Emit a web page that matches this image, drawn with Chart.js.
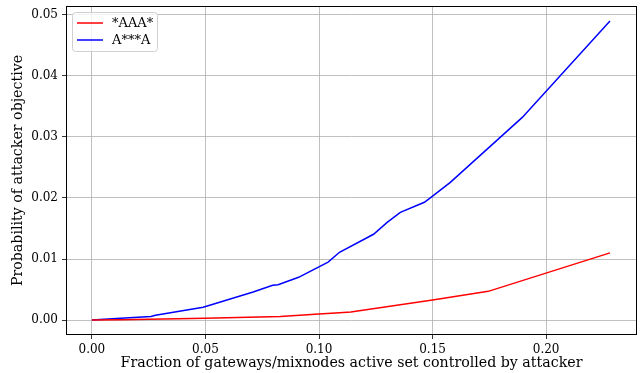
<!DOCTYPE html>
<html>
<head>
<meta charset="utf-8">
<script src="https://cdn.jsdelivr.net/npm/chart.js@4.4.1/dist/chart.umd.min.js"></script>
<style>
  html, body { margin: 0; padding: 0; background: #fff; }
  #wrap { width: 641px; height: 373px; }
</style>
</head>
<body>
<div id="wrap"><canvas id="attackChart" width="641" height="373"></canvas></div>
<script>
// *AAA* series
const aaaX = [0, 0.0127, 0.05, 0.083, 0.100, 0.109, 0.114, 0.150, 0.1745, 0.2281];
const aaaY = [0, 0.00005, 0.0003, 0.0006, 0.0010, 0.0012, 0.0013, 0.0033, 0.0047, 0.0110];

// A***A series
const axaX = [0, 0.0127, 0.026, 0.028, 0.049, 0.071, 0.0796, 0.082, 0.091, 0.104, 0.109, 0.124, 0.130, 0.1358, 0.1464, 0.150, 0.1578, 0.1895, 0.2281];
const axaY = [0, 0.0003, 0.0006, 0.0008, 0.0021, 0.0046, 0.0057, 0.0058, 0.0070, 0.0095, 0.0111, 0.01405, 0.0160, 0.01765, 0.0193, 0.0203, 0.02255, 0.0332, 0.0490];

const xTicks = [0, 0.05, 0.10, 0.15, 0.20];
const yTicks = [0, 0.01, 0.02, 0.03, 0.04, 0.05];

const FONT = "'DejaVu Serif', serif";

function toPoints(xs, ys) {
    return xs.map((x, i) => ({ x: x, y: ys[i] }));
}

// frame around the plot plus a boxed legend in the upper left corner
const framePlugin = {
    id: 'frame',
    afterDraw(chart) {
        const ctx = chart.ctx;
        const a = chart.chartArea;
        ctx.save();
        ctx.strokeStyle = '#000';
        ctx.lineWidth = 1;
        ctx.strokeRect(Math.round(a.left) + 0.5, Math.round(a.top) + 0.5,
            Math.round(a.right - a.left) - 1, Math.round(a.bottom - a.top) - 1);

        // legend
        const bx = a.left + 6, by = a.top + 6, bw = 85, bh = 39;
        ctx.fillStyle = 'rgba(255,255,255,0.8)';
        ctx.strokeStyle = '#d0d0d0';
        ctx.beginPath();
        ctx.roundRect(bx + 0.5, by + 0.5, bw, bh, 3);
        ctx.fill();
        ctx.stroke();
        ctx.font = '13px ' + FONT;
        ctx.textBaseline = 'middle';
        chart.data.datasets.forEach((ds, i) => {
            const ly = by + 11 + i * 17;
            ctx.strokeStyle = ds.borderColor;
            ctx.lineWidth = 1.5;
            ctx.beginPath();
            ctx.moveTo(bx + 5, ly);
            ctx.lineTo(bx + 31, ly);
            ctx.stroke();
            ctx.fillStyle = '#000';
            ctx.fillText(ds.label, bx + 40, ly + 1);
        });
        ctx.restore();
    }
};

new Chart(document.getElementById('attackChart'), {
    type: 'line',
    data: {
        datasets: [{
            label: '*AAA*',
            data: toPoints(aaaX, aaaY),
            borderColor: '#ff0000',
            borderWidth: 1.5,
            pointRadius: 0,
            tension: 0
        }, {
            label: 'A***A',
            data: toPoints(axaX, axaY),
            borderColor: '#0000ff',
            borderWidth: 1.5,
            pointRadius: 0,
            tension: 0
        }]
    },
    options: {
        responsive: false,
        animation: false,
        layout: { padding: { left: 0, right: 4, top: 6, bottom: 0 } },
        scales: {
            x: {
                type: 'linear',
                min: -0.0114,
                max: 0.2400,
                afterBuildTicks: (s) => { s.ticks = xTicks.map(v => ({ value: v })); },
                afterFit: (s) => { s.height = 38; s.paddingLeft = 0; s.paddingRight = 0; },
                ticks: {
                    color: '#000',
                    font: { family: FONT, size: 12 },
                    padding: 4,
                    maxRotation: 0,
                    callback: (v) => v.toFixed(2)
                },
                grid: { color: '#b0b0b0', tickColor: '#000', tickLength: 4, lineWidth: 0.8 },
                border: { display: false },
                title: {
                    display: true,
                    text: 'Fraction of gateways/mixnodes active set controlled by attacker',
                    color: '#000',
                    font: { family: FONT, size: 14.2 },
                    padding: { top: 0, bottom: 1 }
                }
            },
            y: {
                min: -0.00245,
                max: 0.05145,
                afterBuildTicks: (s) => { s.ticks = yTicks.map(v => ({ value: v })); },
                afterFit: (s) => { s.width = 66; s.paddingTop = 0; s.paddingBottom = 0; },
                ticks: {
                    color: '#000',
                    font: { family: FONT, size: 12 },
                    padding: 4,
                    callback: (v) => v.toFixed(2)
                },
                grid: { color: '#b0b0b0', tickColor: '#000', tickLength: 4, lineWidth: 0.8 },
                border: { display: false },
                title: {
                    display: true,
                    text: 'Probability of attacker objective',
                    color: '#000',
                    font: { family: FONT, size: 14.2 },
                    padding: { top: 10, bottom: 0 }
                }
            }
        },
        plugins: {
            legend: { display: false },
            tooltip: { enabled: false }
        }
    },
    plugins: [framePlugin]
});
</script>
</body>
</html>
